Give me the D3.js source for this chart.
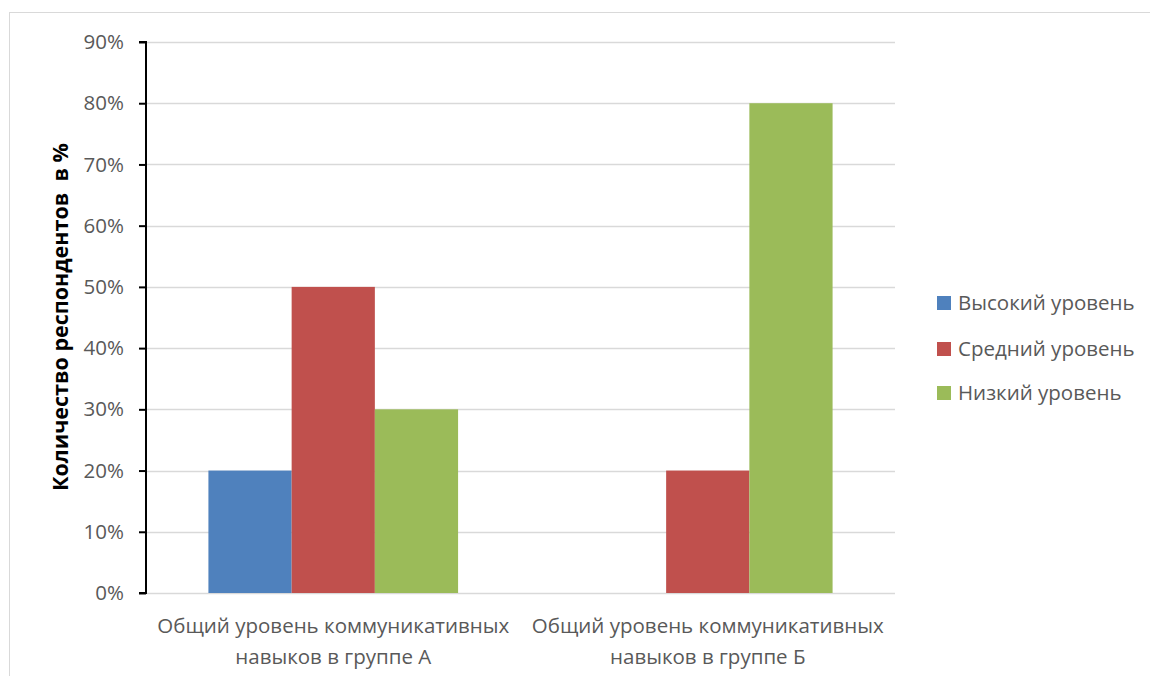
<!DOCTYPE html>
<html>
<head>
<meta charset="utf-8">
<script src="https://cdn.jsdelivr.net/npm/d3@7"></script>
<style>
  html, body { margin: 0; padding: 0; background: #fff; }
  svg { display: block; }
  text { font-family: "Open Sans", "Noto Sans", sans-serif; white-space: pre; }
</style>
</head>
<body>
<svg id="chart" width="1150" height="676"></svg>
<script>
// Chart data
const categories = [
  ["Общий уровень коммуникативных", "навыков в группе А"],
  ["Общий уровень коммуникативных", "навыков в группе Б"]
];
const seriesNames = ["Высокий уровень", "Средний уровень", "Низкий уровень"];
const seriesColors = ["#4F81BD", "#C0504D", "#9BBB59"];
const highLevel = [20, 0];
const midLevel = [50, 20];
const lowLevel = [30, 80];
const yTicks = [0, 10, 20, 30, 40, 50, 60, 70, 80, 90];
const yTitle = "Количество респондентов  в %";

const seriesValues = [highLevel, midLevel, lowLevel];

const svg = d3.select("#chart");
const W = 1150, H = 676;

// outer chart frame
svg.append("rect")
  .attr("x", 9.5).attr("y", 12.5)
  .attr("width", W + 10).attr("height", H + 10)
  .attr("fill", "#fff").attr("stroke", "#d9d9d9").attr("stroke-width", 1);

const plot = { left: 146, right: 895, top: 42, bottom: 593 };

const y = d3.scaleLinear().domain([0, 90]).range([plot.bottom, plot.top]);
const x0 = d3.scaleBand().domain(d3.range(categories.length))
  .range([plot.left, plot.right]).padding(0);
// gap width 150% of a bar on each category
const barW = x0.bandwidth() / (seriesNames.length + 1.5);
const x1 = d3.scaleBand().domain(d3.range(seriesNames.length))
  .range([barW * 0.75, barW * 0.75 + barW * seriesNames.length]).padding(0);

// gridlines
svg.append("g")
  .selectAll("line")
  .data(yTicks)
  .join("line")
  .attr("x1", plot.left).attr("x2", plot.right)
  .attr("y1", d => Math.round(y(d)) + 0.5).attr("y2", d => Math.round(y(d)) + 0.5)
  .attr("stroke", "#d9d9d9").attr("stroke-width", 1.5);

// bars
const groups = svg.append("g").selectAll("g")
  .data(categories.map((c, i) => i))
  .join("g")
  .attr("transform", i => `translate(${x0(i)},0)`);

groups.selectAll("rect")
  .data(i => seriesValues.map((s, k) => ({ k, v: s[i] })))
  .join("rect")
  .attr("x", d => x1(d.k))
  .attr("width", x1.bandwidth())
  .attr("y", d => y(d.v))
  .attr("height", d => y(0) - y(d.v))
  .attr("fill", d => seriesColors[d.k]);

// y axis
const yAxis = d3.axisLeft(y)
  .tickValues(yTicks)
  .tickFormat(d => d + "%")
  .tickSize(7)
  .tickPadding(15);
const ya = svg.append("g")
  .attr("transform", `translate(${plot.left},0)`)
  .call(yAxis);
ya.select(".domain").attr("stroke", "#000").attr("stroke-width", 2)
  .attr("d", `M-7,${y(90)}H0V${y(0)}H-7`);
ya.selectAll(".tick line").attr("stroke", "#000").attr("stroke-width", 2);
ya.selectAll(".tick text")
  .attr("fill", "#595959")
  .style("font-size", "20.5px")
  .style("font-family", "'Open Sans', sans-serif");

// x category labels
const xl = svg.append("g").selectAll("text")
  .data(categories.map((c, i) => i))
  .join("text")
  .attr("x", i => x0(i) + x0.bandwidth() / 2)
  .attr("y", 633)
  .attr("text-anchor", "middle")
  .attr("fill", "#595959")
  .style("font-size", "20.5px");
xl.selectAll("tspan")
  .data(i => categories[i])
  .join("tspan")
  .attr("x", function () { return d3.select(this.parentNode).attr("x"); })
  .attr("dy", (d, j) => j === 0 ? 0 : 31)
  .text(d => d);

// y title
svg.append("text")
  .attr("transform", `translate(68,${317}) rotate(-90)`)
  .attr("text-anchor", "middle")
  .attr("fill", "#000")
  .style("font-size", "21.5px")
  .style("font-weight", "bold")
  .text(yTitle);

// legend
const legend = svg.append("g").attr("transform", "translate(937,0)");
const ly = [303, 349, 393];
const li = legend.selectAll("g")
  .data(seriesNames)
  .join("g")
  .attr("transform", (d, i) => `translate(0,${ly[i]})`);
li.append("rect")
  .attr("x", 0).attr("y", -7)
  .attr("width", 14).attr("height", 14)
  .attr("fill", (d, i) => seriesColors[i]);
li.append("text")
  .attr("x", 21).attr("y", 0)
  .attr("dy", "0.35em")
  .attr("fill", "#595959")
  .style("font-size", "20.5px")
  .text(d => d);
</script>
</body>
</html>
